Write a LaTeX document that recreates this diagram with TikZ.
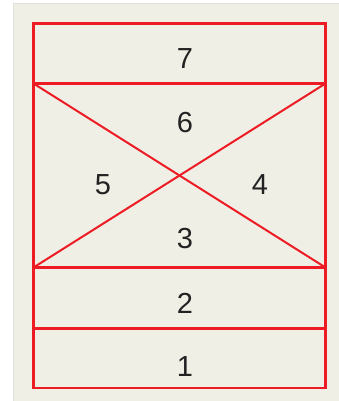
\documentclass[tikz,border=0pt]{standalone}
\usepackage{fontspec}
\setmainfont{Liberation Sans}
\definecolor{bgbeige}{RGB}{240,239,229}
\definecolor{bordergray}{RGB}{224,224,222}
\definecolor{framered}{RGB}{237,28,36}
\definecolor{txtgray}{RGB}{34,34,34}
\begin{document}
\begin{tikzpicture}[x=1pt,y=-1pt,
  frame/.style={draw=framered,line width=2.4pt},
  diag/.style={draw=framered,line width=2pt},
  num/.style={text=txtgray,font=\fontsize{29}{29}\selectfont,inner sep=0pt,anchor=center}]
\useasboundingbox (0,0) rectangle (338,401);
\fill[white] (0,0) rectangle (338,401);
\fill[bgbeige] (13.5,3.5) rectangle (340,403);
\draw[bordergray,line width=1pt] (13.5,403) -- (13.5,3.5) -- (340,3.5);
% frame
\coordinate (tl) at (33.5,23.5);
\coordinate (tr) at (325.5,23.5);
\coordinate (al) at (33.5,83.5);
\coordinate (ar) at (325.5,83.5);
\coordinate (bl) at (33.5,267.5);
\coordinate (br) at (325.5,267.5);
\coordinate (cl) at (33.5,328.5);
\coordinate (cr) at (325.5,328.5);
\coordinate (dl) at (33.5,388);
\coordinate (dr) at (325.5,388);
\draw[diag] (al) -- (br);
\draw[diag] (bl) -- (ar);
\draw[frame] (tl) rectangle (dr);
\draw[frame] (al) -- (ar);
\draw[frame] (bl) -- (br);
\draw[frame] (cl) -- (cr);
% labels
\node[num] (n7) at (185,59) {7};
\node[num] (n6) at (185,123) {6};
\node[num] (n5) at (103,184.5) {5};
\node[num] (n4) at (260,184.5) {4};
\node[num] (n3) at (185,239) {3};
\node[num] (n2) at (185,303) {2};
\node[num] (n1) at (185,367) {1};
\end{tikzpicture}
\end{document}
